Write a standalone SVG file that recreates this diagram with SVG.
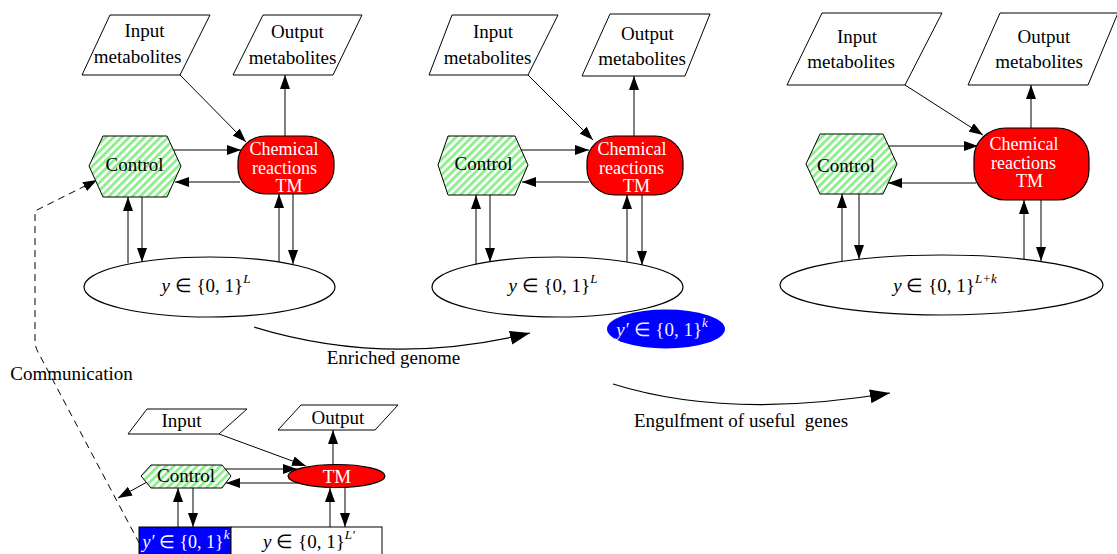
<svg xmlns="http://www.w3.org/2000/svg" width="1117" height="554" viewBox="0 0 1117 554">
<defs>
<pattern id="hatch" patternUnits="userSpaceOnUse" width="5.5" height="5.5" patternTransform="rotate(45)">
<rect x="0" y="0" width="5.5" height="5.5" fill="#ffffff"/>
<rect x="0" y="0" width="2.9" height="5.5" fill="#90ee90"/>
</pattern>
<marker id="ah" markerUnits="userSpaceOnUse" markerWidth="14" markerHeight="10" refX="14" refY="5" orient="auto">
<path d="M0,0 L14,5 L0,10 z" fill="#000"/>
</marker>
<marker id="ahb" markerUnits="userSpaceOnUse" markerWidth="20" markerHeight="14" refX="20" refY="7" orient="auto">
<path d="M0,0 L20,7 L0,14 z" fill="#000"/>
</marker>
<style>
text{font-family:"Liberation Serif","Times New Roman",serif;font-size:19px;fill:#000;text-anchor:middle}
.w{fill:#fff}
.t{fill:#fff;font-size:18px}
.lw{fill:#eeeeff}
.it{font-style:italic}
.sup{font-size:13px;font-style:italic}
.para{fill:#fff;stroke:#000;stroke-width:1}
.ctl{fill:url(#hatch);stroke:#000;stroke-width:1}
.tm{fill:#ff0000;stroke:#000;stroke-width:1.2}
.geno{fill:#fff;stroke:#000;stroke-width:1.2}
.e{stroke:#000;stroke-width:1;fill:none;marker-end:url(#ah)}
.c{stroke:#000;stroke-width:1.2;fill:none;marker-end:url(#ahb)}
.d{stroke:#000;stroke-width:1;fill:none;stroke-dasharray:7,5}
</style>
</defs>

<g id="connectors">
<!-- panel 1 -->
<line class="e" x1="180" y1="75" x2="246" y2="142"/>
<line class="e" x1="285" y1="136" x2="285" y2="75"/>
<line class="e" x1="174" y1="150" x2="241" y2="150"/>
<line class="e" x1="240" y1="182" x2="175" y2="182"/>
<line class="e" x1="128" y1="263" x2="128" y2="197"/>
<line class="e" x1="142" y1="197" x2="142" y2="262"/>
<line class="e" x1="279" y1="262" x2="279" y2="194"/>
<line class="e" x1="293" y1="194" x2="293" y2="264"/>
<!-- panel 2 -->
<line class="e" x1="528" y1="75" x2="593" y2="140"/>
<line class="e" x1="634" y1="136" x2="634" y2="76"/>
<line class="e" x1="521" y1="150" x2="589" y2="150"/>
<line class="e" x1="589" y1="182" x2="522" y2="182"/>
<line class="e" x1="476" y1="264" x2="476" y2="195"/>
<line class="e" x1="490" y1="195" x2="490" y2="262"/>
<line class="e" x1="627" y1="262" x2="627" y2="195"/>
<line class="e" x1="642" y1="195" x2="642" y2="265"/>
<!-- panel 3 -->
<line class="e" x1="905" y1="85" x2="983" y2="135"/>
<line class="e" x1="1031" y1="128" x2="1031" y2="85"/>
<line class="e" x1="888" y1="146" x2="978" y2="146"/>
<line class="e" x1="976" y1="183" x2="888" y2="183"/>
<line class="e" x1="842" y1="261" x2="842" y2="194"/>
<line class="e" x1="859" y1="194" x2="859" y2="259"/>
<line class="e" x1="1024" y1="259" x2="1024" y2="200"/>
<line class="e" x1="1041" y1="200" x2="1041" y2="261"/>
<!-- bottom panel -->
<line class="e" x1="219" y1="434" x2="306" y2="466"/>
<line class="e" x1="333" y1="465" x2="333" y2="430"/>
<line class="e" x1="225" y1="469" x2="297" y2="469"/>
<line class="e" x1="298" y1="483" x2="226" y2="483"/>
<line class="e" x1="178" y1="527" x2="178" y2="488"/>
<line class="e" x1="193" y1="488" x2="193" y2="527"/>
<line class="e" x1="330" y1="527" x2="330" y2="488"/>
<line class="e" x1="345" y1="488" x2="345" y2="527"/>
<line class="e" x1="147" y1="482" x2="118" y2="498"/>
<!-- communication -->
<path class="d" d="M145,554 L38,352 Q35,347 35,340 L35,211 L85,186"/>
<line class="e" x1="84" y1="187" x2="97" y2="180"/>
<!-- evolution arrows -->
<path class="c" d="M254,327 Q388,368 530,333"/>
<path class="c" d="M613,384 Q728,420 890,393"/>
</g>

<!-- Panel 1 -->
<g id="p1-input">
<polygon class="para" points="110,15 210,15 180,75 82,75"/>
<text x="144.5" y="37">Input</text>
<text x="137.5" y="63">metabolites</text>
</g>
<g id="p1-output">
<polygon class="para" points="263,15 362,15 333,75 233,75"/>
<text x="297.5" y="38">Output</text>
<text x="292.5" y="64">metabolites</text>
</g>
<g id="p1-control">
<polygon class="ctl" points="103,136 167,136 181,166 167,197 103,197 89,166"/>
<text x="134.5" y="171">Control</text>
</g>
<g id="p1-tm">
<rect class="tm" x="238" y="136" width="96" height="58" rx="28" ry="26"/>
<text class="t" x="284" y="155">Chemical</text>
<text class="t" x="284.5" y="173.5">reactions</text>
<text class="t" x="289" y="192">TM</text>
</g>
<g id="p1-genome">
<ellipse class="geno" cx="209.5" cy="287" rx="125.5" ry="30"/>
<text x="206" y="292"><tspan class="it">y</tspan> ∈ {0, 1}<tspan class="sup" dy="-9">L</tspan></text>
</g>

<!-- Panel 2 -->
<g id="p2-input">
<polygon class="para" points="452,15 558,15 528,75 429,75"/>
<text x="493" y="38">Input</text>
<text x="487.5" y="64">metabolites</text>
</g>
<g id="p2-output">
<polygon class="para" points="610,14 710,14 685,76 582,76"/>
<text x="647.5" y="40">Output</text>
<text x="642" y="65">metabolites</text>
</g>
<g id="p2-control">
<polygon class="ctl" points="448,136 515,136 528,165 515,195 448,195 438,165"/>
<text x="483.5" y="170">Control</text>
</g>
<g id="p2-tm">
<rect class="tm" x="587" y="136" width="96" height="59" rx="28" ry="26"/>
<text class="t" x="632" y="155">Chemical</text>
<text class="t" x="631.5" y="173.5">reactions</text>
<text class="t" x="636.5" y="192">TM</text>
</g>
<g id="p2-genome">
<ellipse class="geno" cx="557.5" cy="287" rx="125.5" ry="30"/>
<text x="553" y="292"><tspan class="it">y</tspan> ∈ {0, 1}<tspan class="sup" dy="-9">L</tspan></text>
</g>
<g id="p2-newgenes">
<ellipse cx="666" cy="329" rx="59" ry="19.5" fill="#0000ff"/>
<text class="lw" x="662" y="336"><tspan class="it">y′</tspan> ∈ {0, 1}<tspan class="sup" dy="-9">k</tspan></text>
</g>

<!-- Panel 3 -->
<g id="p3-input">
<polygon class="para" points="822,13 942,13 905,85 787,85"/>
<text x="857" y="43">Input</text>
<text x="851" y="68">metabolites</text>
</g>
<g id="p3-output">
<polygon class="para" points="1000,13 1118,13 1088,85 968,85"/>
<text x="1044" y="43">Output</text>
<text x="1039" y="68">metabolites</text>
</g>
<g id="p3-control">
<polygon class="ctl" points="820,134 883,134 897,164 883,194 820,194 806,164"/>
<text x="846" y="172">Control</text>
</g>
<g id="p3-tm">
<rect class="tm" x="974" y="128" width="115" height="72" rx="32" ry="30"/>
<text class="t" x="1024" y="150">Chemical</text>
<text class="t" x="1023.5" y="168.5">reactions</text>
<text class="t" x="1029.5" y="187">TM</text>
</g>
<g id="p3-genome">
<ellipse class="geno" cx="941.5" cy="285" rx="161.5" ry="30"/>
<text x="945" y="292"><tspan class="it">y</tspan> ∈ {0, 1}<tspan class="sup" dy="-9">L+k</tspan></text>
</g>

<!-- Bottom panel -->
<g id="b-input">
<polygon class="para" points="147,409 247,409 219,434 128,434"/>
<text x="181.5" y="427">Input</text>
</g>
<g id="b-output">
<polygon class="para" points="301,405 398,405 375,430 278,430"/>
<text x="338" y="423.5">Output</text>
</g>
<g id="b-control">
<polygon class="ctl" points="151,465 222,465 231,476 222,488 151,488 141,476"/>
<text x="186" y="482">Control</text>
</g>
<g id="b-tm">
<ellipse class="tm" cx="336.5" cy="476" rx="48.5" ry="11.5"/>
<text class="w" x="337" y="483">TM</text>
</g>
<g id="b-genome">
<rect x="139" y="527" width="92" height="30" fill="#0000ff" stroke="#000" stroke-width="1"/>
<rect x="231" y="527" width="151" height="30" fill="#fff" stroke="#000" stroke-width="1"/>
<text class="w" x="186" y="548" style="font-size:18px"><tspan class="it">y′</tspan> ∈ {0, 1}<tspan class="sup" dy="-9">k</tspan></text>
<text x="309" y="548"><tspan class="it">y</tspan> ∈ {0, 1}<tspan class="sup" dy="-9">L′</tspan></text>
</g>

<g id="labels">
<text x="71.5" y="380">Communication</text>
<text x="393.5" y="364">Enriched genome</text>
<text x="741" y="427" xml:space="preserve">Engulfment of useful  genes</text>
</g>
</svg>
